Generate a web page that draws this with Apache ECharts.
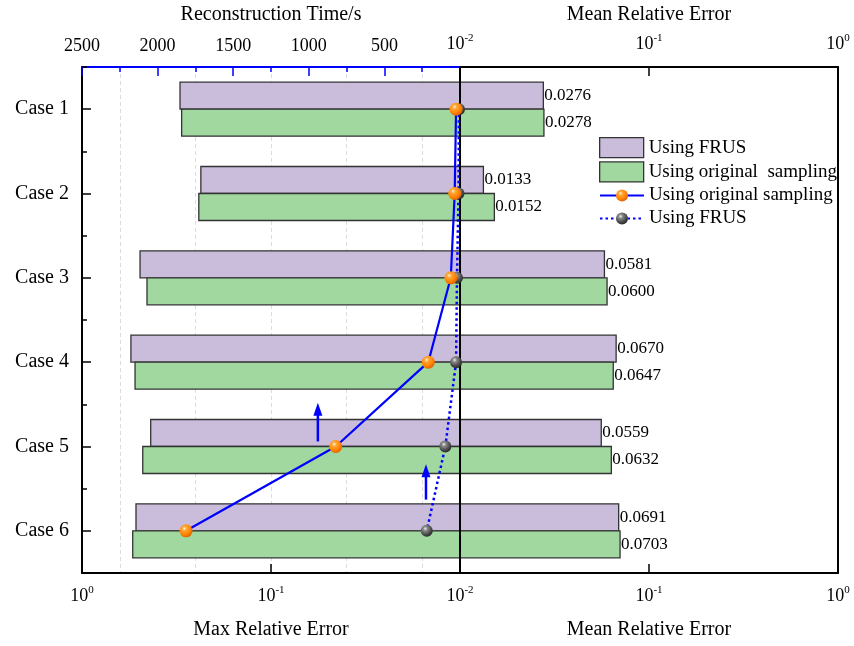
<!DOCTYPE html>
<html>
<head>
<meta charset="utf-8">
<script src="https://cdn.jsdelivr.net/npm/echarts@6/dist/echarts.min.js"></script>
<style>
html, body { margin: 0; padding: 0; background: #fff; }
#chart { width: 854px; height: 646px; }
</style>
</head>
<body>
<div id="chart"></div>
<script>
// ---- data ----
const cases = ['Case 1', 'Case 2', 'Case 3', 'Case 4', 'Case 5', 'Case 6'];
// max relative error, drawn on the reversed log axis (left half)
const maxErrFRUS = [0.303, 0.235, 0.493, 0.551, 0.433, 0.518];
const maxErrOrig = [0.297, 0.241, 0.453, 0.524, 0.477, 0.539];
// mean relative error, drawn on the log axis (right half)
const meanErrFRUS = [0.0276, 0.0133, 0.0581, 0.0670, 0.0559, 0.0691];
const meanErrOrig = [0.0278, 0.0152, 0.0600, 0.0647, 0.0632, 0.0703];
// reconstruction time in seconds (top-left axis)
const timeOrig = [26, 35, 61, 210, 822, 1812];
const timeFRUS = [7, 10, 20, 26, 97, 220];
// time axis range / step
const timeMax = 2500;
const timeStep = 500;
// trend arrows: time position and (fractional) case index of tail and head
const arrowTime = [940, 225];
const arrowFrom = [3.94, 4.63];
const arrowTo = [3.48, 4.21];

// ---- styling ----
const FONT = 'Liberation Serif';
const PURPLE = '#c9bddb';
const GREEN = '#a0d8a0';
const EDGE = '#333333';
const BLUE = '#0000ff';
const orangeBall = {
  type: 'radial', x: 0.38, y: 0.32, r: 0.75,
  colorStops: [
    { offset: 0, color: '#fff4dc' },
    { offset: 0.22, color: '#ffa838' },
    { offset: 0.65, color: '#ff8000' },
    { offset: 1, color: '#d85800' }
  ]
};
const grayBall = {
  type: 'radial', x: 0.38, y: 0.32, r: 0.75,
  colorStops: [
    { offset: 0, color: '#f2f2f2' },
    { offset: 0.22, color: '#8c8c8c' },
    { offset: 0.65, color: '#4a4a4a' },
    { offset: 1, color: '#202020' }
  ]
};

const powLabel = v => {
  const e = Math.round(Math.log10(v));
  return '{b|10}{s|' + e + '}';
};
const powRich = {
  b: { fontFamily: FONT, fontSize: 18, color: '#000', lineHeight: 22 },
  s: { fontFamily: FONT, fontSize: 11, color: '#000', lineHeight: 12, verticalAlign: 'top' }
};

const GRID_W = 378, GRID_H = 508, TOP = 65, LEFT = 82;

const blackLine = { show: true, onZero: false, lineStyle: { color: '#000', width: 2 } };
const blackTick = { show: true, inside: true, length: 9, lineStyle: { color: '#000', width: 1.5 } };
const nameStyle = { fontFamily: FONT, fontSize: 20, color: '#000' };

// one half of a bar pair: from the centre line (0.01) out to the value
function halfBar(name, vals, gridSide, color, upper) {
  const isLeft = gridSide === 'left';
  return {
    type: 'custom',
    name: name,
    xAxisIndex: isLeft ? 0 : 2,
    yAxisIndex: isLeft ? 0 : 2,
    itemStyle: { color: color, borderColor: EDGE, borderWidth: 1.3 },
    data: vals.map((v, i) => [v, cases[i]]),
    encode: { x: 0, y: 1 },
    z: 2,
    renderItem: function (params, api) {
      const v = api.value(0);
      const k = api.value(1);
      const c = api.coord([0.01, k]);
      const e = api.coord([v, k]);
      const band = api.size([0, 1])[1];
      const h = band * 0.32;
      const y = upper ? c[1] - h : c[1];
      const children = [{
        type: 'rect',
        shape: { x: Math.min(c[0], e[0]), y: y, width: Math.abs(e[0] - c[0]), height: h },
        style: { fill: color, stroke: EDGE, lineWidth: 1.3 }
      }];
      if (!isLeft) {
        children.push({
          type: 'text',
          x: e[0] + 1,
          y: y + h / 2,
          style: {
            text: v.toFixed(4), fill: '#000',
            font: '17px "' + FONT + '"',
            align: 'left', verticalAlign: 'middle'
          }
        });
      }
      return { type: 'group', children: children };
    }
  };
}

const chart = echarts.init(document.getElementById('chart'));

chart.setOption({
  animation: false,
  backgroundColor: '#fff',
  grid: [
    { left: LEFT, top: TOP, width: GRID_W, height: GRID_H },
    { left: LEFT + GRID_W, top: TOP, width: GRID_W, height: GRID_H }
  ],
  legend: [
    {
      orient: 'vertical', left: 599, top: 137, padding: 0,
      itemWidth: 44, itemHeight: 20, itemGap: 3,
      textStyle: { fontFamily: FONT, fontSize: 19, color: '#000' },
      data: [
        { name: 'Using FRUS', icon: 'rect', itemStyle: { color: PURPLE, borderColor: EDGE, borderWidth: 1.3 } },
        { name: 'Using original  sampling', icon: 'rect', itemStyle: { color: GREEN, borderColor: EDGE, borderWidth: 1.3 } }
      ]
    },
    {
      orient: 'vertical', left: 599, top: 186, padding: 0,
      itemWidth: 44, itemHeight: 15, itemGap: 4,
      textStyle: { fontFamily: FONT, fontSize: 19, color: '#000' },
      data: [
        { name: 'Using original sampling' },
        { name: 'Using FRUS ' }
      ]
    }
  ],
  xAxis: [
    { // bottom-left: max relative error, reversed log
      type: 'log', logBase: 10, gridIndex: 0, position: 'bottom',
      min: 0.01, max: 1, inverse: true,
      name: 'Max Relative Error', nameLocation: 'middle', nameGap: 47,
      nameTextStyle: nameStyle,
      axisLine: blackLine,
      axisTick: blackTick,
      axisLabel: {
        margin: 12,
        formatter: v => (Math.round(Math.log10(v)) === -2 ? '' : powLabel(v)),
        rich: powRich
      },
      splitLine: { show: false }
    },
    { // top-left: reconstruction time
      type: 'value', gridIndex: 0, position: 'top',
      min: 0, max: timeMax, interval: timeStep, inverse: true,
      name: 'Reconstruction Time/s', nameLocation: 'middle', nameGap: 42,
      nameTextStyle: nameStyle,
      axisLine: { show: true, onZero: false, lineStyle: { color: BLUE, width: 2 } },
      axisTick: { show: true, inside: true, length: 9, lineStyle: { color: BLUE, width: 1.5 } },
      minorTick: { show: true, splitNumber: 2, length: 5, lineStyle: { color: BLUE, width: 1.5 } },
      minorSplitLine: { show: true, lineStyle: { color: '#dcdcdc', width: 1, type: [4, 3] } },
      splitLine: { show: false },
      axisLabel: {
        margin: 12, fontFamily: FONT, fontSize: 18, color: '#000',
        formatter: v => (v === 0 ? '' : String(v))
      }
    },
    { // bottom-right: mean relative error
      type: 'log', logBase: 10, gridIndex: 1, position: 'bottom',
      min: 0.01, max: 1,
      name: 'Mean Relative Error', nameLocation: 'middle', nameGap: 47,
      nameTextStyle: nameStyle,
      axisLine: blackLine,
      axisTick: blackTick,
      axisLabel: { margin: 12, formatter: powLabel, rich: powRich, showMaxLabel: true, showMinLabel: true },
      splitLine: { show: false }
    },
    { // top-right: mean relative error
      type: 'log', logBase: 10, gridIndex: 1, position: 'top',
      min: 0.01, max: 1,
      name: 'Mean Relative Error', nameLocation: 'middle', nameGap: 42,
      nameTextStyle: nameStyle,
      axisLine: blackLine,
      axisTick: blackTick,
      axisLabel: { margin: 12, formatter: powLabel, rich: powRich, showMaxLabel: true, showMinLabel: true },
      splitLine: { show: false }
    }
  ],
  yAxis: [
    { // case labels, ticks at the case centres
      type: 'category', gridIndex: 0, position: 'left', inverse: true, data: cases,
      axisLine: blackLine,
      axisTick: { show: true, inside: true, alignWithLabel: true, length: 9, lineStyle: { color: '#000', width: 1.5 } },
      axisLabel: { margin: 13, fontFamily: FONT, fontSize: 20, color: '#000' },
      splitLine: { show: false }
    },
    { // short ticks between cases
      type: 'category', gridIndex: 0, position: 'left', inverse: true, data: cases,
      axisLine: { show: false, onZero: false },
      axisTick: { show: true, inside: true, length: 5, lineStyle: { color: '#000', width: 1.5 } },
      axisLabel: { show: false },
      splitLine: { show: false }
    },
    { // centre line
      type: 'category', gridIndex: 1, position: 'left', inverse: true, data: cases, z: 6,
      axisLine: blackLine,
      axisTick: { show: false }, axisLabel: { show: false }, splitLine: { show: false }
    },
    { // right frame
      type: 'category', gridIndex: 1, position: 'right', inverse: true, data: cases,
      axisLine: blackLine,
      axisTick: { show: false }, axisLabel: { show: false }, splitLine: { show: false }
    }
  ],
  series: [
    halfBar('Using FRUS', maxErrFRUS, 'left', PURPLE, true),
    halfBar('Using original  sampling', maxErrOrig, 'left', GREEN, false),
    halfBar('Using FRUS', meanErrFRUS, 'right', PURPLE, true),
    halfBar('Using original  sampling', meanErrOrig, 'right', GREEN, false),
    {
      type: 'line', name: 'Using FRUS ', xAxisIndex: 1, yAxisIndex: 0,
      data: timeFRUS.map((t, i) => [t, cases[i]]),
      symbol: 'circle', symbolSize: 12, showAllSymbol: true, clip: false, z: 8,
      lineStyle: { color: BLUE, width: 2.5, type: [2.5, 3] },
      itemStyle: { color: grayBall, borderWidth: 0 }
    },
    {
      type: 'line', name: 'Using original sampling', xAxisIndex: 1, yAxisIndex: 0,
      data: timeOrig.map((t, i) => [t, cases[i]]),
      symbol: 'circle', symbolSize: 13, showAllSymbol: true, clip: false, z: 9,
      lineStyle: { color: BLUE, width: 2.2 },
      itemStyle: { color: orangeBall, borderWidth: 0 }
    },
    {
      type: 'custom', name: 'trend', xAxisIndex: 1, yAxisIndex: 0, z: 9,
      data: arrowTime.map((t, i) => [t, i]),
      encode: { x: 0, y: 1 },
      renderItem: function (params, api) {
        const i = params.dataIndex;
        const t = api.value(0);
        const yAt = f => {
          const k = Math.floor(f);
          const a = api.coord([t, k]);
          const b = api.coord([t, k + 1]);
          return a[1] + (b[1] - a[1]) * (f - k);
        };
        const x = api.coord([t, 0])[0];
        const yTail = yAt(arrowFrom[i]);
        const yHead = yAt(arrowTo[i]);
        return {
          type: 'group',
          children: [
            { type: 'line', shape: { x1: x, y1: yTail, x2: x, y2: yHead + 10 },
              style: { stroke: BLUE, lineWidth: 2.5 } },
            { type: 'polygon', shape: { points: [[x, yHead], [x - 4.5, yHead + 13], [x + 4.5, yHead + 13]] },
              style: { fill: BLUE } }
          ]
        };
      }
    }
  ]
});
</script>
</body>
</html>
